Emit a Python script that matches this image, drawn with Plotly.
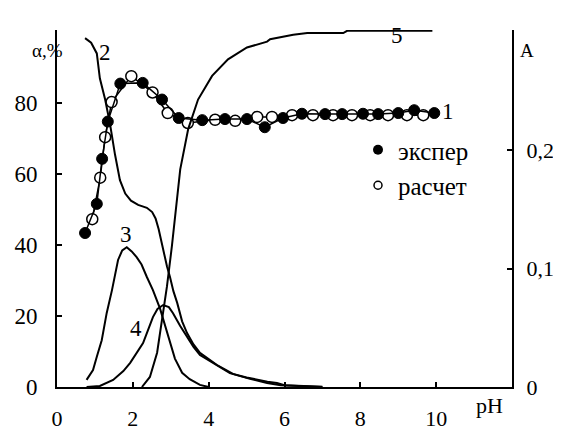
import plotly.graph_objects as go

# ---- data ----
exp_ph = [0.74, 1.05, 1.19, 1.34, 1.67, 2.26, 2.77, 3.21, 3.83, 4.43, 5.01, 5.48, 5.96,
          6.46, 7.07, 7.52, 8.07, 8.47, 9.00, 9.42, 9.95]
exp_alpha = [43.4, 51.6, 64.3, 74.8, 85.5, 85.7, 81.0, 75.8, 75.2, 75.5, 75.5, 73.2, 75.8,
             77.0, 76.9, 76.9, 77.0, 76.9, 77.2, 78.0, 77.2]

calc_ph = [0.93, 1.14, 1.27, 1.44, 1.96, 2.52, 2.92, 3.45, 4.17, 4.70, 5.28, 5.67, 6.20,
           6.75, 7.28, 7.78, 8.26, 8.73, 9.23, 9.66]
calc_alpha = [47.3, 59.0, 70.4, 80.3, 87.6, 83.0, 77.2, 74.4, 75.3, 75.0, 76.1, 76.1, 76.6,
              76.6, 76.6, 76.6, 76.6, 76.6, 76.6, 76.6]

c2_ph = [0.74, 0.90, 1.05, 1.13, 1.27, 1.40, 1.53, 1.66, 1.80, 1.95, 2.14, 2.37, 2.51, 2.60,
         2.68, 2.80, 2.90, 2.98, 3.07, 3.17, 3.30, 3.43, 3.60, 3.77, 4.00, 4.22, 4.45, 4.64,
         5.00, 5.28, 5.55, 5.80, 6.00, 6.50, 7.00]
c2_alpha = [98.3, 97.0, 94.0, 87.0, 81.0, 74.0, 65.5, 58.3, 54.5, 52.5, 51.3, 50.5, 49.3, 47.5,
            44.5, 38.5, 34.0, 31.0, 27.0, 23.7, 18.5, 15.2, 12.0, 9.6, 7.8, 6.2, 4.8, 3.7,
            2.7, 2.0, 1.5, 1.1, 0.5, 0.3, 0.1]

c3_ph = [0.78, 0.95, 1.05, 1.18, 1.31, 1.45, 1.61, 1.72, 1.84, 1.97, 2.10, 2.23, 2.37, 2.53,
         2.72, 2.90, 3.11, 3.30, 3.50, 3.77, 4.00]
c3_alpha = [2.0, 4.8, 8.5, 13.2, 20.8, 27.3, 35.8, 38.5, 39.4, 38.2, 36.6, 34.5, 31.0, 27.3,
            22.0, 15.5, 8.0, 4.0, 2.2, 0.6, 0.0]

c4_ph = [0.78, 1.13, 1.48, 1.75, 1.93, 2.10, 2.27, 2.40, 2.53, 2.65, 2.80, 2.95, 3.06, 3.25,
         3.43, 3.60, 3.77, 4.12, 4.56, 5.09, 5.54, 5.90, 6.50, 7.00]
c4_alpha = [0.0, 0.3, 2.0, 4.5, 6.8, 9.5, 12.4, 16.0, 19.7, 22.0, 23.1, 22.5, 20.8, 17.2,
            14.1, 11.3, 9.0, 6.8, 3.9, 2.3, 1.1, 0.5, 0.2, 0.0]

c5_ph = [2.24, 2.45, 2.64, 2.77, 2.90, 3.03, 3.11, 3.25, 3.46, 3.72, 4.09, 4.51, 5.01, 5.54,
         5.62, 6.23, 6.60, 7.55, 7.65, 9.90]
c5_A = [0.0, 0.0085, 0.029, 0.057, 0.085, 0.119, 0.142, 0.184, 0.218, 0.243, 0.263, 0.277,
        0.287, 0.292, 0.294, 0.2977, 0.2992, 0.2992, 0.3011, 0.3011]

x_ticks = [0, 2, 4, 6, 8, 10]
y_ticks = [0, 20, 40, 60, 80]
a_ticks = [0, 0.1, 0.2]
a_ticktext = ["0", "0,1", "0,2"]

curve_labels = ["1", "2", "3", "4"]
label_ph = [10.32, 1.27, 1.82, 2.08]
label_alpha = [77.5, 94.4, 43.1, 16.6]

legend_names = ["экспер", "расчет"]

FONT = "Liberation Serif"
BLACK = "#000000"

# pixel geometry of the plotting area (window coordinates)
PAGE = 8  # default body margin of the html page
L, R, T, B = 57, 512, 30, 387
W, H = R - L, B - T


def px(xp):
    return (xp - L) / W


def py(yp):
    return (B - yp) / H


def f(size):
    return dict(family=FONT, size=size, color=BLACK)


fig = go.Figure()

for xs, ys in [(c2_ph, c2_alpha), (c3_ph, c3_alpha), (c4_ph, c4_alpha)]:
    fig.add_trace(go.Scatter(x=xs, y=ys, mode="lines", line=dict(color=BLACK, width=2),
                             showlegend=False, hoverinfo="skip"))

fig.add_trace(go.Scatter(x=c5_ph, y=c5_A, mode="lines", yaxis="y2",
                         line=dict(color=BLACK, width=2), showlegend=False))

fig.add_trace(go.Scatter(x=calc_ph, y=calc_alpha, mode="lines+markers",
                         line=dict(color=BLACK, width=1.5),
                         marker=dict(symbol="circle", size=11, color="white",
                                     line=dict(color=BLACK, width=1.5)),
                         showlegend=False))
fig.add_trace(go.Scatter(x=exp_ph, y=exp_alpha, mode="lines+markers",
                         line=dict(color=BLACK, width=1.5),
                         marker=dict(symbol="circle", size=11, color=BLACK,
                                     line=dict(color=BLACK, width=1)),
                         showlegend=False))

# legend entries
fig.add_trace(go.Scatter(x=[None], y=[None], mode="markers", name=legend_names[0],
                         marker=dict(symbol="circle", size=10, color=BLACK)))
fig.add_trace(go.Scatter(x=[None], y=[None], mode="markers", name=legend_names[1],
                         marker=dict(symbol="circle", size=8, color="white",
                                     line=dict(color=BLACK, width=1.5))))

annotations = []
for t, xv, yv in zip(curve_labels, label_ph, label_alpha):
    annotations.append(dict(x=xv, y=yv, xref="x", yref="y", text=t, showarrow=False,
                            font=f(23)))
annotations.append(dict(x=px(405), y=py(21), xref="paper", yref="paper", text="5",
                        showarrow=False, font=f(23)))
annotations.append(dict(x=px(30), y=py(38), xref="paper", yref="paper", text="α,%",
                        showarrow=False, font=f(19)))
annotations.append(dict(x=px(536), y=py(38), xref="paper", yref="paper", text="A",
                        showarrow=False, font=f(19)))
annotations.append(dict(x=px(505), y=py(420), xref="paper", yref="paper", text="pH",
                        showarrow=False, font=f(22)))

axis_common = dict(showgrid=False, zeroline=False, showline=True, linecolor=BLACK, linewidth=2,
                   ticks="inside", ticklen=5, tickwidth=2, tickcolor=BLACK,
                   automargin=False)

fig.update_layout(
    width=561 - PAGE, height=432 - PAGE,
    margin=dict(l=L - PAGE, r=561 - R, t=T - PAGE, b=432 - B),
    paper_bgcolor="white", plot_bgcolor="white",
    font=f(22),
    showlegend=True,
    legend=dict(x=px(358), y=py(127), xanchor="left", yanchor="top",
                bgcolor="rgba(0,0,0,0)", font=f(25),
                itemwidth=30, tracegroupgap=0),
    xaxis=dict(range=[0, 12], tickvals=x_ticks, ticktext=[str(v) for v in x_ticks],
               ticklabelstandoff=11, tickfont=f(22), **axis_common),
    yaxis=dict(range=[0, 100.6], tickvals=y_ticks, ticktext=[str(v) for v in y_ticks],
               ticklabelstandoff=13, tickfont=f(23), **axis_common),
    yaxis2=dict(range=[0, 0.3018], overlaying="y", side="right", anchor="x",
                tickvals=a_ticks, ticktext=a_ticktext, ticklabelstandoff=8,
                tickfont=f(22), **axis_common),
    annotations=annotations,
)

fig.write_html("out.html")
